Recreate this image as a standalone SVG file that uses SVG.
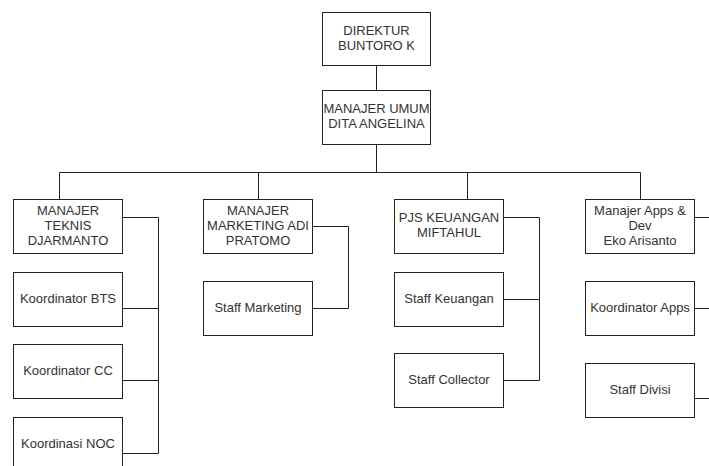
<svg xmlns="http://www.w3.org/2000/svg" width="709" height="466" viewBox="0 0 709 466">
<style>
.box{fill:#fff;stroke:#222;stroke-width:1}
.ln{fill:none;stroke:#222;stroke-width:1}
text{font-family:"Liberation Sans",Arial,sans-serif;font-size:13px;fill:#333;text-anchor:middle}
</style>
<rect width="709" height="466" fill="#fff"/>
<g id="connectors">
<path class="ln" d="M376.5 65V90M376.5 144V172.5M59.5 172.5H640.5M59.5 172.5V199M258.5 172.5V199M467.5 172.5V199M640.5 172.5V199"/>
<path class="ln" d="M122.5 217.5H158.5V453.5H122.5M122.5 308.5H158.5M122.5 380.5H158.5"/>
<path class="ln" d="M312.5 226.5H348.5V308.5H312.5"/>
<path class="ln" d="M503.5 217.5H539.5V380.5H503.5M503.5 299.5H539.5"/>
<path class="ln" d="M694.5 217.5H709M694.5 308.5H709M694.5 398.5H709"/>
</g>
<g id="direktur"><rect class="box" x="322.5" y="12.5" width="108" height="53"/><text x="376.5" y="35">DIREKTUR</text><text x="376.5" y="50">BUNTORO K</text></g>
<g id="manajer-umum"><rect class="box" x="322.5" y="90.5" width="108" height="54"/><text x="376.5" y="113">MANAJER UMUM</text><text x="376.5" y="128">DITA ANGELINA</text></g>
<g id="manajer-teknis"><rect class="box" x="13.5" y="199.5" width="109" height="54"/><text x="68" y="215">MANAJER</text><text x="68" y="230">TEKNIS</text><text x="68" y="245">DJARMANTO</text></g>
<g id="koordinator-bts"><rect class="box" x="13.5" y="272.5" width="109" height="54"/><text x="68" y="303">Koordinator BTS</text></g>
<g id="koordinator-cc"><rect class="box" x="13.5" y="344.5" width="109" height="54"/><text x="68" y="375">Koordinator CC</text></g>
<g id="koordinasi-noc"><rect class="box" x="13.5" y="417.5" width="109" height="54"/><text x="68" y="448">Koordinasi NOC</text></g>
<g id="manajer-marketing"><rect class="box" x="203.5" y="199.5" width="109" height="54"/><text x="258" y="215">MANAJER</text><text x="258" y="230">MARKETING ADI</text><text x="258" y="245">PRATOMO</text></g>
<g id="staff-marketing"><rect class="box" x="203.5" y="281.5" width="109" height="54"/><text x="258" y="312">Staff Marketing</text></g>
<g id="pjs-keuangan"><rect class="box" x="394.5" y="199.5" width="109" height="54"/><text x="449" y="222">PJS KEUANGAN</text><text x="449" y="237">MIFTAHUL</text></g>
<g id="staff-keuangan"><rect class="box" x="394.5" y="272.5" width="109" height="54"/><text x="449" y="303">Staff Keuangan</text></g>
<g id="staff-collector"><rect class="box" x="394.5" y="353.5" width="109" height="54"/><text x="449" y="384">Staff Collector</text></g>
<g id="manajer-apps"><rect class="box" x="585.5" y="199.5" width="109" height="54"/><text x="640" y="215">Manajer Apps &amp;</text><text x="640" y="230">Dev</text><text x="640" y="245">Eko Arisanto</text></g>
<g id="koordinator-apps"><rect class="box" x="585.5" y="281.5" width="109" height="54"/><text x="640" y="312">Koordinator Apps</text></g>
<g id="staff-divisi"><rect class="box" x="585.5" y="363.5" width="109" height="54"/><text x="640" y="394">Staff Divisi</text></g>
</svg>
